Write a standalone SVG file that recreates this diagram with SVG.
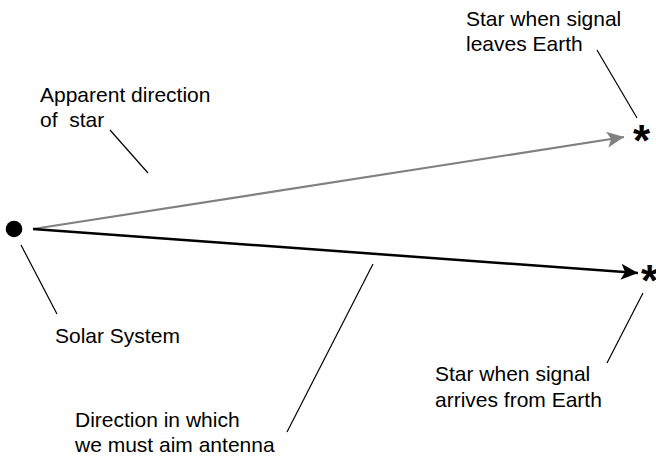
<svg xmlns="http://www.w3.org/2000/svg" width="656" height="458" viewBox="0 0 656 458">
<style>
text{font-family:"Liberation Sans",Arial,sans-serif;font-size:21px;fill:#000}
.star{font-size:44px;font-weight:bold}
.leader{stroke:#000;stroke-width:1.2;fill:none}
</style>
<defs>
<marker id="ag" markerUnits="userSpaceOnUse" markerWidth="20" markerHeight="20" refX="17" refY="8" orient="auto" viewBox="0 0 20 16">
<path d="M0,0 L17,8 L0,16 L4,8 Z" fill="#808080"/>
</marker>
<marker id="ab" markerUnits="userSpaceOnUse" markerWidth="20" markerHeight="20" refX="17" refY="8" orient="auto" viewBox="0 0 20 16">
<path d="M0,0 L17,8 L0,16 L4,8 Z" fill="#000"/>
</marker>
</defs>
<g id="connectors">
<line x1="33" y1="229" x2="624" y2="137" stroke="#808080" stroke-width="2.2" marker-end="url(#ag)"/>
<line x1="33" y1="229" x2="638" y2="273" stroke="#000" stroke-width="2.5" marker-end="url(#ab)"/>
<line class="leader" x1="110" y1="130" x2="148" y2="173"/>
<line class="leader" x1="597" y1="50" x2="637" y2="118"/>
<line class="leader" x1="643" y1="293" x2="607" y2="363"/>
<line class="leader" x1="21" y1="245" x2="57" y2="314"/>
<line class="leader" x1="373" y1="264" x2="287" y2="432"/>
</g>
<g id="solar-system">
<circle cx="14" cy="229" r="8.3" fill="#000"/>
<text x="55" y="343">Solar System</text>
</g>
<g id="star-leaves">
<text class="star" x="633" y="156">*</text>
<text x="466" y="26">Star when signal</text>
<text x="466" y="51">leaves Earth</text>
</g>
<g id="star-arrives">
<text class="star" x="641" y="296">*</text>
<text x="435" y="381">Star when signal</text>
<text x="435" y="407">arrives from Earth</text>
</g>
<g id="apparent-direction">
<text x="40" y="102">Apparent direction</text>
<text x="40" y="127" xml:space="preserve">of  star</text>
</g>
<g id="antenna-direction">
<text x="75" y="427">Direction in which</text>
<text x="75" y="452">we must aim antenna</text>
</g>
</svg>
